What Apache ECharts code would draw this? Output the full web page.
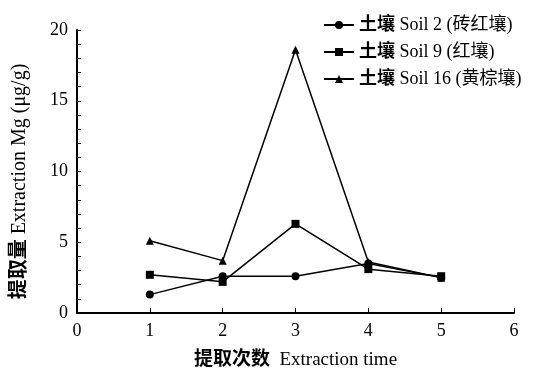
<!DOCTYPE html>
<html><head><meta charset="utf-8">
<script src="https://cdn.jsdelivr.net/npm/echarts@6/dist/echarts.min.js"></script>
<style>html,body{margin:0;padding:0;background:#fff}#c{width:542px;height:370px}</style>
</head><body><div id="c"></div>
<script>
const xTimes = [1, 2, 3, 4, 5];
const soil2 = [1.3, 2.6, 2.6, 3.5, 2.5];
const soil9 = [2.7, 2.2, 6.3, 3.1, 2.6];
const soil16 = [5.1, 3.7, 18.6, 3.6, 2.5];
const seriesNames = ['土壤 Soil 2 (砖红壤)', '土壤 Soil 9 (红壤)', '土壤 Soil 16 (黄棕壤)'];
const font = '"Liberation Serif","Noto Sans CJK SC",serif';
function pairs(v){ return xTimes.map((x,i)=>[x, v[i]]); }
const rich = {
  b:{fontFamily:font, fontSize:18, fontWeight:'bold', color:'#000'},
  n:{fontFamily:font, fontSize:18, color:'#000'},
  bx:{fontFamily:font, fontSize:19, fontWeight:'bold', color:'#000'},
  nx:{fontFamily:font, fontSize:19, color:'#000'},
  by:{fontFamily:font, fontSize:20, fontWeight:'bold', color:'#000'},
  ny:{fontFamily:font, fontSize:20, color:'#000'}
};
const chart = echarts.init(document.getElementById('c'));
const common = {type:'line', lineStyle:{color:'#000', width:1.5}, itemStyle:{color:'#000'}, symbolSize:8};
chart.setOption({
  animation:false,
  grid:{left:77, right:28, top:30, bottom:57, outerBoundsMode:'none', containLabel:false},
  legend:{orient:'vertical', left:318, top:11, itemWidth:30, itemHeight:10, itemGap:9,
    textStyle:{fontFamily:font, fontSize:18, color:'#000', rich:rich},
    formatter:function(n){ const p = n.split(' '); return '{b|' + p[0] + '} {n|' + p.slice(1).join(' ') + '}'; },
    data:seriesNames},
  xAxis:{type:'value', min:0, max:6, interval:1,
    name:'{bx|提取次数}  {nx|Extraction time}', nameLocation:'middle', nameGap:38,
    nameTextStyle:{fontFamily:font, fontSize:19, color:'#000', rich:rich},
    axisLine:{lineStyle:{color:'#000', width:2}},
    axisTick:{inside:true, length:5, lineStyle:{color:'#000'}},
    axisLabel:{fontFamily:font, fontSize:18, color:'#000', margin:9},
    splitLine:{show:false}},
  yAxis:{type:'value', min:0, max:20, interval:5,
    name:'{by|提取量} {ny|Extraction Mg (μg/g)}', nameLocation:'middle', nameGap:47,
    nameTextStyle:{fontFamily:font, fontSize:20, color:'#000', rich:rich, padding:[0,20,0,0]},
    axisLine:{lineStyle:{color:'#000', width:2}},
    axisTick:{inside:true, length:4, lineStyle:{color:'#000'}},
    minorTick:{show:true, splitNumber:5, length:4, lineStyle:{color:'#000'}},
    axisLabel:{fontFamily:font, fontSize:18, color:'#000', margin:9},
    splitLine:{show:false}},
  series:[
    Object.assign({name:seriesNames[0], symbol:'circle', data:pairs(soil2)}, common),
    Object.assign({name:seriesNames[1], symbol:'rect', data:pairs(soil9)}, common),
    Object.assign({name:seriesNames[2], symbol:'triangle', data:pairs(soil16)}, common)
  ]
});
</script></body></html>
